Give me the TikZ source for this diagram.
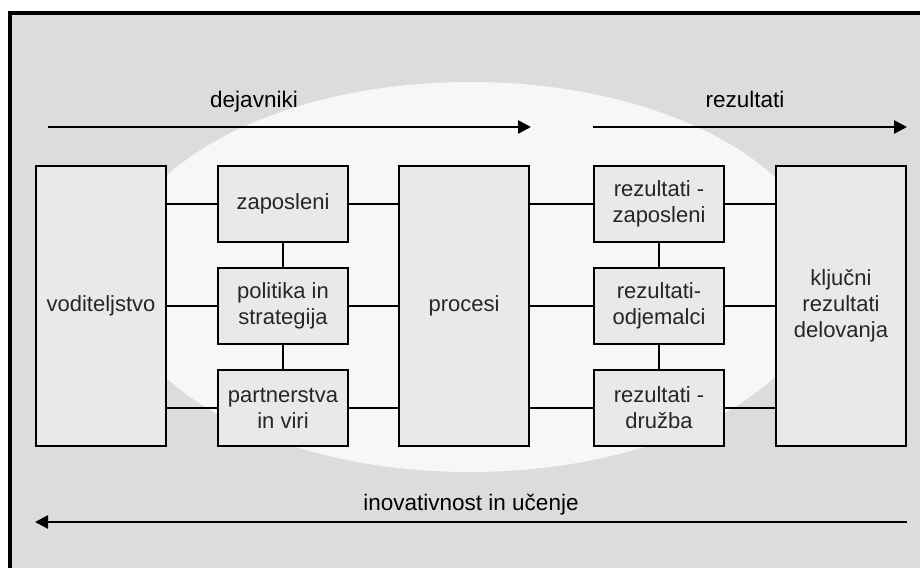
\documentclass[tikz,border=0pt]{standalone}
\usepackage{fontspec}
\setmainfont{Liberation Sans}
\usetikzlibrary{arrows.meta}
\definecolor{bgcol}{HTML}{DCDCDC}
\definecolor{ellcol}{HTML}{F7F7F7}
\definecolor{boxcol}{HTML}{E9E9E9}
\tikzset{
  boxnode/.style={draw=black, line width=2pt, fill=boxcol, minimum width=130pt, inner sep=0pt, align=center, text=black!85, font=\fontsize{22}{26}\selectfont},
  conn/.style={line width=2pt},
  flowarrow/.style={line width=2.6pt, -{Triangle[length=13pt,width=13pt]}},
  lbl/.style={anchor=base, inner sep=0pt, font=\fontsize{22.5}{26}\selectfont}
}
\begin{document}
\begin{tikzpicture}[x=1pt,y=-1pt]
\useasboundingbox (0,0) rectangle (920,567);
\begin{scope}
\clip (0,0) rectangle (920,567);
\fill[bgcol] (10,13) rectangle (940,590);
\draw[line width=4pt] (10,13) rectangle (940,590);
\end{scope}
\fill[ellcol] (470,277) ellipse [x radius=355pt, y radius=195pt];

% boxes
\node[boxnode, minimum height=280pt] (vod) at (101,306) {voditeljstvo};
\node[boxnode, minimum height=76pt] (zap) at (283,204) {zaposleni};
\node[boxnode, minimum height=76pt] (pol) at (283,306) {politika in\\strategija};
\node[boxnode, minimum height=76pt] (par) at (283,408) {partnerstva\\in viri};
\node[boxnode, minimum height=280pt] (pro) at (464,306) {procesi};
\node[boxnode, minimum height=76pt] (rza) at (659,204) {rezultati -\\zaposleni};
\node[boxnode, minimum height=76pt] (rod) at (659,306) {rezultati-\\odjemalci};
\node[boxnode, minimum height=76pt] (rdr) at (659,408) {rezultati -\\družba};
\node[boxnode, minimum height=280pt] (klj) at (841,306) {ključni\\rezultati\\delovanja};

% connectors
\draw[conn] (zap.west -| vod.east) -- (zap.west);
\draw[conn] (pol.west -| vod.east) -- (pol.west);
\draw[conn] (par.west -| vod.east) -- (par.west);
\draw[conn] (zap.east) -- (zap.east -| pro.west);
\draw[conn] (pol.east) -- (pol.east -| pro.west);
\draw[conn] (par.east) -- (par.east -| pro.west);
\draw[conn] (rza.west -| pro.east) -- (rza.west);
\draw[conn] (rod.west -| pro.east) -- (rod.west);
\draw[conn] (rdr.west -| pro.east) -- (rdr.west);
\draw[conn] (rza.east) -- (rza.east -| klj.west);
\draw[conn] (rod.east) -- (rod.east -| klj.west);
\draw[conn] (rdr.east) -- (rdr.east -| klj.west);
\draw[conn] (zap.south) -- (pol.north);
\draw[conn] (pol.south) -- (par.north);
\draw[conn] (rza.south) -- (rod.north);
\draw[conn] (rod.south) -- (rdr.north);

% flow arrows
\coordinate (d1) at (48,127);
\coordinate (d2) at (531,127);
\coordinate (r1) at (593,127);
\coordinate (r2) at (907,127);
\coordinate (i1) at (907,522);
\coordinate (i2) at (35,522);
\draw[flowarrow] (d1) -- (d2);
\draw[flowarrow] (r1) -- (r2);
\draw[flowarrow] (i1) -- (i2);

\node[lbl] (dej) at (254,107) {dejavniki};
\node[lbl] (rez) at (745,107) {rezultati};
\node[lbl] (ino) at (471,510) {inovativnost in učenje};
\end{tikzpicture}
\end{document}
